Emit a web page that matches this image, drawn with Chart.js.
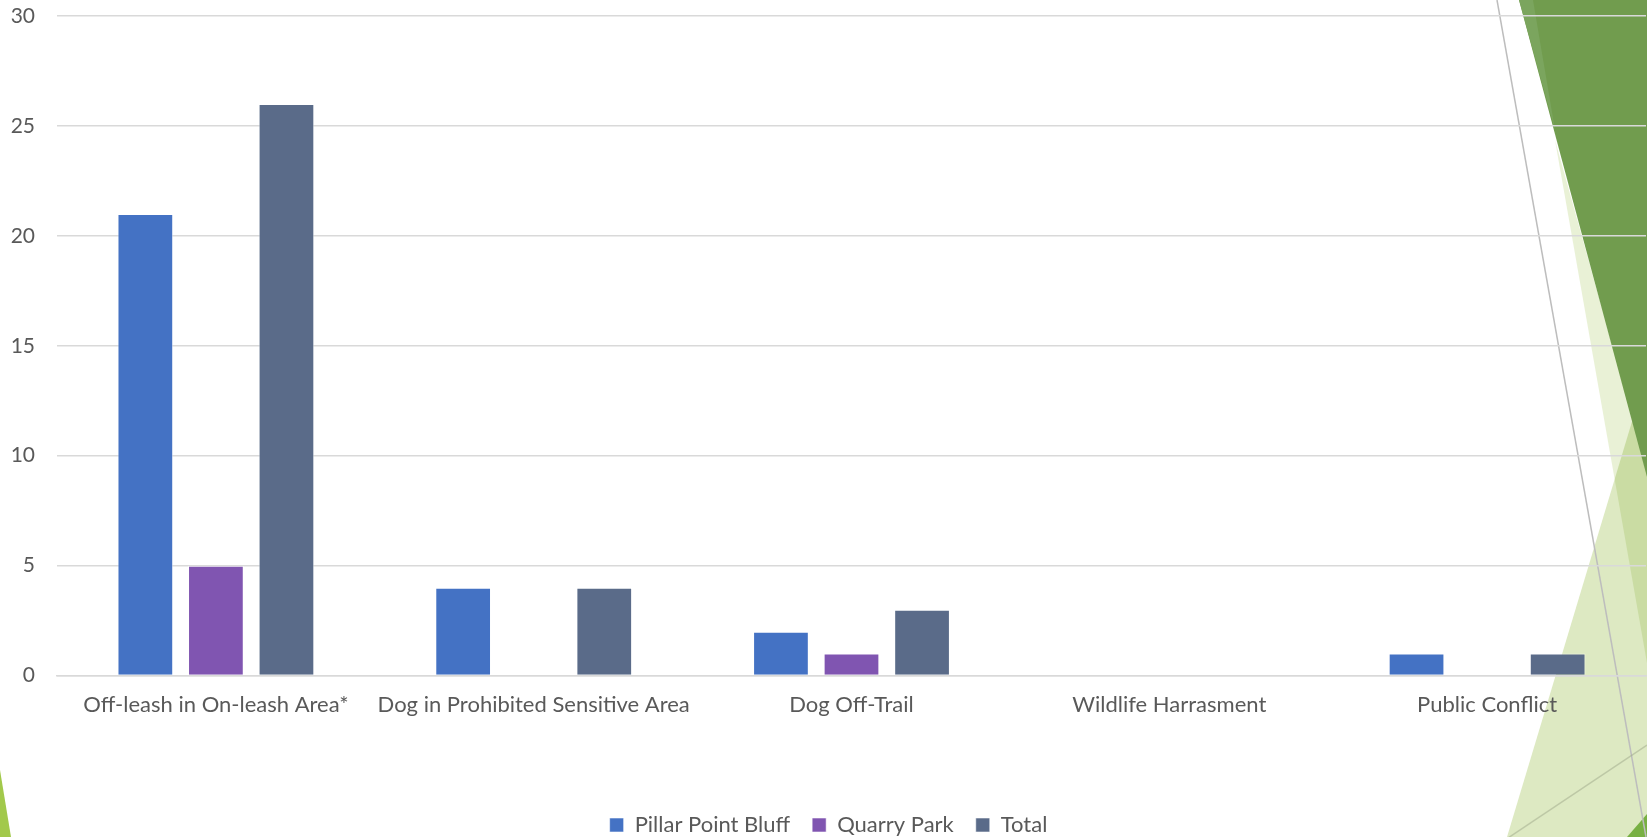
<!DOCTYPE html>
<html>
<head>
<meta charset="utf-8">
<script src="https://cdn.jsdelivr.net/npm/chart.js@4"></script>
<style>
    html, body { margin: 0; padding: 0; background: #ffffff; }
    #wrap { width: 1647px; height: 837px; position: relative; }
</style>
</head>
<body>
<div id="wrap"><canvas id="incidentChart"></canvas></div>
<script>
    // categories and series
    const categories = [
        'Off-leash in On-leash Area*',
        'Dog in Prohibited Sensitive Area',
        'Dog Off-Trail',
        'Wildlife Harrasment',
        'Public Conflict'
    ];
    const pillarPointBluff = [21, 4, 2, 0, 1];
    const quarryPark = [5, 0, 1, 0, 0];
    const totals = [26, 4, 3, 0, 1];
    const yTicks = [0, 5, 10, 15, 20, 25, 30];

    const textColor = '#595959';
    const gridColor = '#d9d9d9';
    const fontFamily = 'Lato, "Open Sans", sans-serif';

    // the slide theme's green facets, drawn behind the chart
    const backdrop = {
        id: 'backdrop',
        beforeDraw(chart) {
            const c = chart.ctx;
            const w = chart.width;
            const h = chart.height;

            function poly(points, fill) {
                c.beginPath();
                c.moveTo(points[0][0], points[0][1]);
                points.slice(1).forEach(p => c.lineTo(p[0], p[1]));
                c.closePath();
                c.fillStyle = fill;
                c.fill();
            }

            c.save();
            c.fillStyle = '#ffffff';
            c.fillRect(0, 0, w, h);

            // big pale triangle from the bottom
            poly([[1507, h], [1640, 395], [w, 395], [w, h]], '#dde9c2');
            // light wedge, overlaps the triangle
            c.globalCompositeOperation = 'multiply';
            poly([[1555, 140], [w, 663], [w, 470]], '#e9f1d6');
            c.globalCompositeOperation = 'source-over';
            // dark green facet top right
            poly([[1519, 0], [w, 0], [w, 477]], '#719c4e');
            poly([[1519, 0], [1533, 0], [1555, 130]], '#7ba55e');
            // corner pieces
            poly([[1627, h], [w, 814], [w, h]], '#78b043');
            poly([[0, 770], [11, h], [0, h]], '#a2c94b');

            // thin lines
            c.lineWidth = 1.5;
            c.strokeStyle = '#bdbdbd';
            c.beginPath();
            c.moveTo(1497, 0);
            c.lineTo(1646, h);
            c.stroke();
            c.strokeStyle = 'rgba(150, 160, 130, 0.45)';
            c.beginPath();
            c.moveTo(1505, 840);
            c.lineTo(w, 745);
            c.stroke();
            c.restore();
        }
    };

    const ctx = document.getElementById('incidentChart');
    const myChart = new Chart(ctx, {
        type: 'bar',
        data: {
            labels: categories,
            datasets: [{
                label: 'Pillar Point Bluff',
                data: pillarPointBluff,
                backgroundColor: '#4472c4'
            }, {
                label: 'Quarry Park',
                data: quarryPark,
                backgroundColor: '#8055b1'
            }, {
                label: 'Total',
                data: totals,
                backgroundColor: '#5a6b89'
            }]
        },
        options: {
            responsive: true,
            maintainAspectRatio: false,
            animation: false,
            devicePixelRatio: 1,
            layout: { padding: { top: 16, left: 11, right: 1, bottom: -9 } },
            datasets: {
                bar: {
                    categoryPercentage: 0.666,
                    barPercentage: 0.79,
                    borderWidth: 1,
                    borderColor: 'rgba(255, 255, 255, 0.55)',
                    borderSkipped: 'bottom'
                }
            },
            scales: {
                x: {
                    grid: { display: false, drawTicks: false },
                    border: { display: true, color: gridColor, width: 1.5 },
                    ticks: {
                        color: textColor,
                        padding: 16,
                        maxRotation: 0,
                        autoSkip: false,
                        font: { family: fontFamily, size: 22 }
                    },
                    afterFit(scale) {
                        // leave room between the labels and the legend
                        scale.height += 58;
                        scale.paddingLeft = 0;
                        scale.paddingRight = 0;
                    }
                },
                y: {
                    min: 0,
                    max: 30,
                    afterBuildTicks(scale) {
                        scale.ticks = yTicks.map(v => ({ value: v }));
                    },
                    afterFit(scale) {
                        scale.width = 46;
                        scale.paddingTop = 0;
                        scale.paddingBottom = 0;
                    },
                    grid: { color: gridColor, lineWidth: 1.5, drawTicks: false },
                    border: { display: false },
                    ticks: {
                        color: textColor,
                        padding: 22,
                        font: { family: fontFamily, size: 21 }
                    }
                }
            },
            plugins: {
                legend: {
                    position: 'bottom',
                    labels: {
                        color: textColor,
                        boxWidth: 14,
                        boxHeight: 14,
                        padding: 22,
                        font: { family: fontFamily, size: 22 }
                    }
                },
                tooltip: { enabled: false }
            }
        },
        plugins: [backdrop]
    });
</script>
</body>
</html>
